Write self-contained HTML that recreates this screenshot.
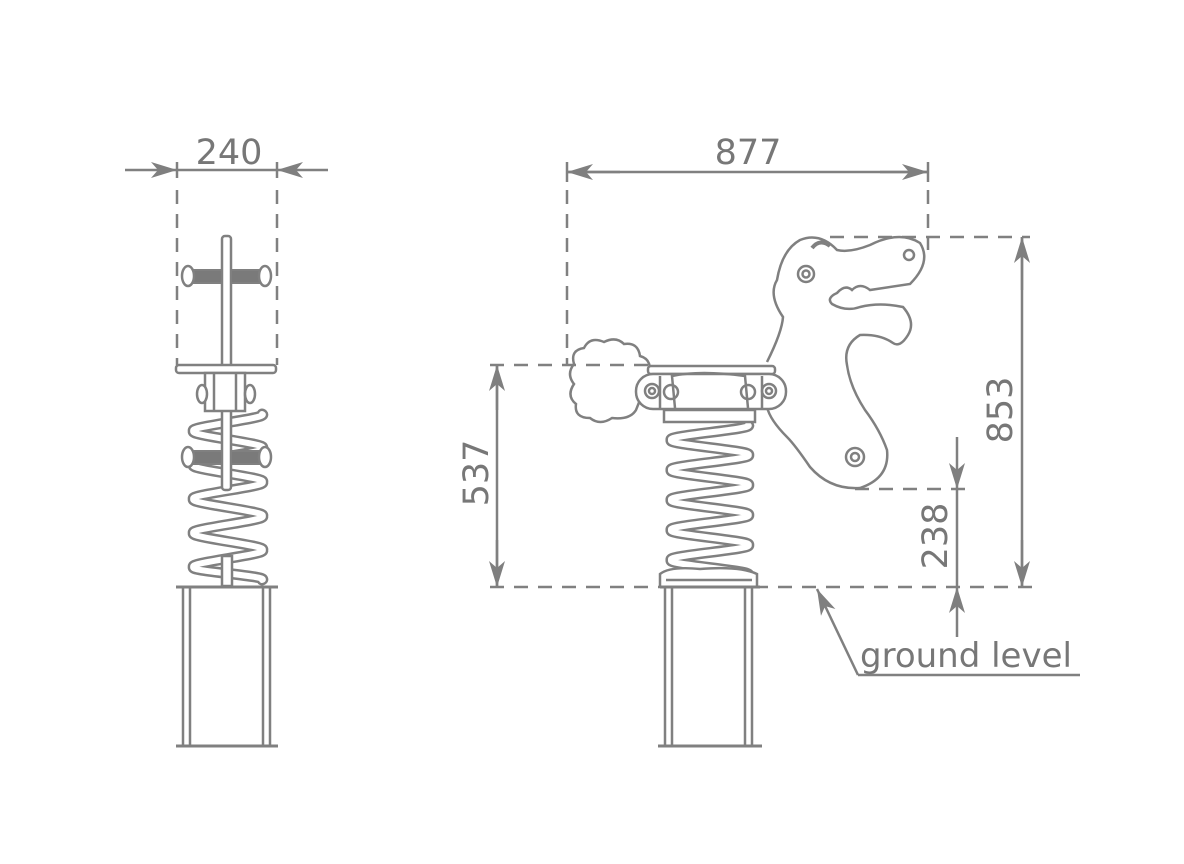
<!DOCTYPE html>
<html><head><meta charset="utf-8"><style>html,body{margin:0;padding:0;background:#fff}svg{display:block}</style></head><body>
<svg width="1184" height="864" viewBox="0 0 1184 864" xmlns="http://www.w3.org/2000/svg">
<defs>
<marker id="ar" viewBox="0 0 26 16" refX="26" refY="8" markerWidth="26" markerHeight="16" markerUnits="userSpaceOnUse" orient="auto"><path d="M0,0 L26,8 L0,16 L7,8 Z" fill="#7f7f7f"/></marker>
<path id="ls" d="M262 414 C272 418 184 427 194 431 C184 435 272 444 262 448 C272 452 184 461 194 465 C184 469 272 478 262 482 C272 486 184 495 194 499 C184 503 272 512 262 516 C272 520 184 529 194 533 C184 537 272 546 262 550 C272 554 184 563 194 567 C184 571 272 576 262 580"/>
<path id="rs" d="M748 425 C758 429 660 436 672 440 C660 444 758 451 748 455 C758 459 660 466 672 470 C660 474 758 481 748 485 C758 489 660 496 672 500 C660 504 758 511 748 515 C758 519 660 526 672 530 C660 534 758 541 748 545 C758 549 660 556 672 560 C660 564 758 571 748 575"/>
</defs>
<g fill="none" stroke="#808080" stroke-width="2.5">
<line x1="125" y1="170" x2="177" y2="170" marker-end="url(#ar)"/>
<line x1="328" y1="170" x2="277" y2="170" marker-end="url(#ar)"/>
<line x1="177" y1="170" x2="277" y2="170"/>
<line x1="177" y1="162" x2="177" y2="178"/><line x1="277" y1="162" x2="277" y2="178"/>
<g stroke-dasharray="14,10"><line x1="177" y1="190" x2="177" y2="365"/><line x1="277" y1="190" x2="277" y2="365"/></g>
<use href="#ls" stroke-width="11" stroke-linejoin="round" stroke-linecap="round"/>
<use href="#ls" stroke="#fff" stroke-width="6" stroke-linejoin="round" stroke-linecap="round"/>
</g>
<g fill="#fff" stroke="#808080" stroke-width="2.5">
<rect x="222" y="236" width="9" height="254" rx="3"/>
<rect x="176" y="365" width="100" height="8" rx="3"/>
<rect x="205" y="373" width="40" height="38"/>
<line x1="214" y1="373" x2="214" y2="411"/><line x1="236" y1="373" x2="236" y2="411"/>
<ellipse cx="202" cy="394" rx="5" ry="9"/><ellipse cx="250" cy="394" rx="5" ry="9"/>
<rect x="222" y="556" width="10" height="30"/>
</g>
<g fill="none" stroke="#808080" stroke-width="2.5">
<line x1="176" y1="587" x2="278" y2="587" stroke-width="3"/>
<line x1="183" y1="587" x2="183" y2="746"/><line x1="190" y1="587" x2="190" y2="746"/>
<line x1="263" y1="587" x2="263" y2="746"/><line x1="270" y1="587" x2="270" y2="746"/>
<line x1="176" y1="746" x2="278" y2="746" stroke-width="3"/>
</g>
<g fill="#7a7a7a" stroke="#808080" stroke-width="2">
<rect x="192" y="270" width="30" height="13"/><rect x="231" y="270" width="30" height="13"/>
<rect x="192" y="451" width="30" height="13"/><rect x="231" y="451" width="30" height="13"/>
</g>
<g fill="#fff" stroke="#808080" stroke-width="2.5">
<ellipse cx="188" cy="276" rx="6" ry="10"/><ellipse cx="265" cy="276" rx="6" ry="10"/>
<ellipse cx="188" cy="457" rx="6" ry="10"/><ellipse cx="265" cy="457" rx="6" ry="10"/>
</g>
<g fill="none" stroke="#808080" stroke-width="2.5">
<line x1="567" y1="172" x2="928" y2="172"/>
<line x1="620" y1="172" x2="567" y2="172" marker-end="url(#ar)"/>
<line x1="880" y1="172" x2="928" y2="172" marker-end="url(#ar)"/>
<line x1="567" y1="162" x2="567" y2="182"/><line x1="928" y1="162" x2="928" y2="182"/>
<line x1="1022" y1="237" x2="1022" y2="587"/>
<line x1="1022" y1="290" x2="1022" y2="237" marker-end="url(#ar)"/>
<line x1="1022" y1="540" x2="1022" y2="587" marker-end="url(#ar)"/>
<line x1="497" y1="365" x2="497" y2="587"/>
<line x1="497" y1="410" x2="497" y2="365" marker-end="url(#ar)"/>
<line x1="497" y1="540" x2="497" y2="587" marker-end="url(#ar)"/>
<line x1="957" y1="437" x2="957" y2="489" marker-end="url(#ar)"/>
<line x1="957" y1="637" x2="957" y2="587" marker-end="url(#ar)"/>
<line x1="957" y1="489" x2="957" y2="587"/>
<line x1="858" y1="675" x2="817" y2="589" marker-end="url(#ar)"/>
<line x1="858" y1="675" x2="1080" y2="675"/>
<g stroke-dasharray="14,10">
<line x1="567" y1="190" x2="567" y2="365"/><line x1="928" y1="190" x2="928" y2="250"/>
<line x1="830" y1="237" x2="1030" y2="237"/>
<line x1="490" y1="365" x2="650" y2="365"/>
<line x1="855" y1="489" x2="965" y2="489"/>
<line x1="490" y1="587" x2="1032" y2="587"/>
</g>
<path d="M640 400 Q652 392 648 378 Q654 360 640 356 Q638 342 624 344 Q616 336 604 342 Q590 336 584 348 Q570 350 574 364 Q566 374 574 384 Q566 396 576 404 Q574 418 590 418 Q600 426 612 418 Q630 420 636 410 Z"/>
<path fill="#fff" d="M767 362 Q782 332 783 317 Q768 295 777 280 Q782 250 800 240 Q820 232 837 250 Q850 253 870 245 Q900 230 920 243 Q932 262 910 284 L870 290 Q860 282 852 290 Q845 284 837 293 Q826 298 832 304 Q846 312 860 307 Q880 302 903 307 Q916 322 908 335 Q900 348 893 343 Q880 334 860 335 Q843 345 847 365 Q850 387 865 410 Q880 430 887 450 Q890 478 860 488 Q830 490 810 467 Q795 445 787 437 Q770 420 767 407"/>
<path d="M812 248 Q820 238 830 246" stroke-width="4"/>
<circle cx="806" cy="274" r="8"/><circle cx="806" cy="274" r="3.5"/>
<circle cx="909" cy="255" r="5"/>
<circle cx="855" cy="457" r="9"/><circle cx="855" cy="457" r="4"/>
<use href="#rs" stroke-width="11" stroke-linejoin="round" stroke-linecap="round"/>
<use href="#rs" stroke="#fff" stroke-width="6" stroke-linejoin="round" stroke-linecap="round"/>
<rect x="648" y="366" width="127" height="8" rx="3" fill="#fff"/>
<rect x="636" y="374" width="150" height="35" rx="17" fill="#fff"/>
<path d="M660 376 L660 408 M762 376 L762 408 M675 408 L672 376 Q700 370 745 376 L748 408"/>
<circle cx="652" cy="391" r="7"/><circle cx="652" cy="391" r="3"/>
<circle cx="671" cy="392" r="7"/>
<circle cx="748" cy="392" r="7"/>
<circle cx="769" cy="391" r="7"/><circle cx="769" cy="391" r="3"/>
<path d="M664 410 L755 410 L755 422 L664 422 Z" fill="#fff"/>
<path d="M660 587 L660 574 Q670 566 700 569 Q740 566 757 574 L757 587 M666 580 L752 580" fill="#fff"/>
<line x1="660" y1="587" x2="760" y2="587" stroke-width="3"/>
<line x1="665" y1="587" x2="665" y2="746"/><line x1="672" y1="587" x2="672" y2="746"/>
<line x1="745" y1="587" x2="745" y2="746"/><line x1="752" y1="587" x2="752" y2="746"/>
<line x1="658" y1="746" x2="762" y2="746" stroke-width="3"/>
</g>
<g fill="#777" font-family="DejaVu Sans, Liberation Sans, sans-serif" font-size="35">
<text x="229" y="164" text-anchor="middle">240</text>
<text x="748" y="164" text-anchor="middle">877</text>
<text transform="translate(1012,410) rotate(-90)" text-anchor="middle">853</text>
<text transform="translate(488,473) rotate(-90)" text-anchor="middle">537</text>
<text transform="translate(947,536) rotate(-90)" text-anchor="middle">238</text>
<text x="860" y="667" font-size="34">ground level</text>
</g>
</svg>
</body></html>
